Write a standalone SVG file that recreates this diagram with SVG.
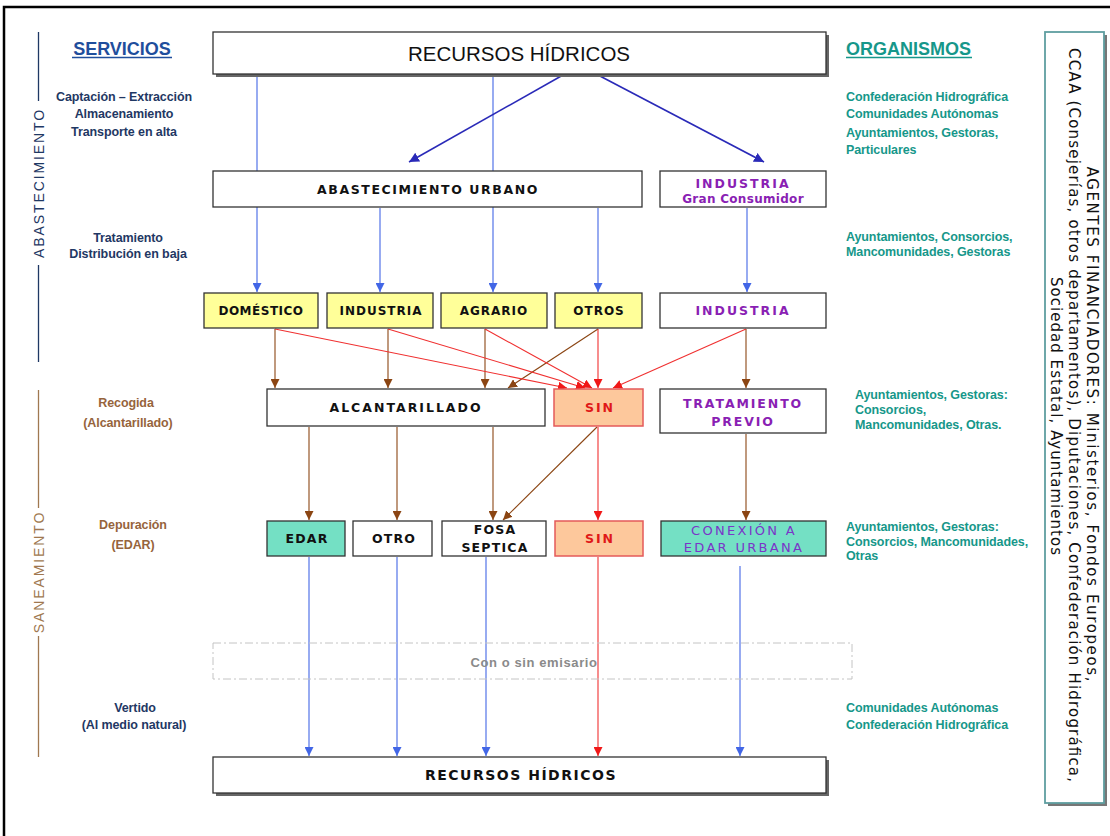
<svg xmlns="http://www.w3.org/2000/svg" width="1110" height="836" viewBox="0 0 1110 836">
<defs>
<style>
.box{fill:#fff;stroke:#333;stroke-width:1.3}
.yel{fill:#ffff99;stroke:#333;stroke-width:1.3}
.sin{fill:#fdc89c;stroke:#e45a5a;stroke-width:1.5}
.mint{fill:#74e0c4;stroke:#333;stroke-width:1.3}
.nt{font-family:"DejaVu Sans",Verdana,sans-serif;font-weight:bold;font-size:12.5px;fill:#111;text-anchor:middle}
.pur{fill:#8a1fb4}
.pur2{fill:#7a35c8;font-weight:normal;font-size:13px}
.red{fill:#e01818}
.svc{font-family:"Liberation Sans",Arial,sans-serif;font-weight:bold;font-size:12.5px;text-anchor:middle;letter-spacing:-0.1px}
.org{font-family:"Liberation Sans",Arial,sans-serif;font-weight:bold;font-size:12.5px;fill:#16978a;letter-spacing:-0.1px}
.navy{fill:#1f3864}
.tan{fill:#96643c}
.cb{fill:none;stroke:#4266e6;stroke-width:1.1}
.cd{fill:none;stroke:#2a2ab8;stroke-width:1.6}
.cbr{fill:none;stroke:#8b4513;stroke-width:1.1}
.cr{fill:none;stroke:#f03030;stroke-width:1.1}
.ag{font-family:"DejaVu Sans",Verdana,sans-serif;font-size:15px;fill:#111;text-anchor:middle}
</style>
<marker id="mb" viewBox="0 0 10 10" refX="10" refY="5" markerWidth="9" markerHeight="9" markerUnits="userSpaceOnUse" orient="auto"><path d="M0,0 L10,5 L0,10 z" fill="#4266e6"/></marker>
<marker id="md" viewBox="0 0 10 10" refX="10" refY="5" markerWidth="10" markerHeight="10" markerUnits="userSpaceOnUse" orient="auto"><path d="M0,0 L10,5 L0,10 z" fill="#2a2ab8"/></marker>
<marker id="mbr" viewBox="0 0 10 10" refX="10" refY="5" markerWidth="9" markerHeight="9" markerUnits="userSpaceOnUse" orient="auto"><path d="M0,0 L10,5 L0,10 z" fill="#8b4513"/></marker>
<marker id="mr" viewBox="0 0 10 10" refX="10" refY="5" markerWidth="9" markerHeight="9" markerUnits="userSpaceOnUse" orient="auto"><path d="M0,0 L10,5 L0,10 z" fill="#f01818"/></marker>
</defs>
<rect x="0" y="0" width="1110" height="836" fill="#fff"/>
<path d="M4,836 V7 H1110" fill="none" stroke="#000" stroke-width="2.5"/>

<g id="side-labels">
<text x="122" y="55" font-family="Liberation Sans,Arial,sans-serif" font-weight="bold" font-size="18" fill="#1f4e9c" text-anchor="middle">SERVICIOS</text>
<line x1="72" y1="57.5" x2="172" y2="57.5" stroke="#1f4e9c" stroke-width="1.5"/>
<text x="846" y="55" font-family="Liberation Sans,Arial,sans-serif" font-weight="bold" font-size="18" fill="#16978a">ORGANISMOS</text>
<line x1="846" y1="57.5" x2="972" y2="57.5" stroke="#16978a" stroke-width="1.5"/>

<line x1="38.5" y1="32" x2="38.5" y2="101" stroke="#1f3864" stroke-width="1.3"/>
<line x1="38.5" y1="265" x2="38.5" y2="362" stroke="#1f3864" stroke-width="1.3"/>
<text transform="translate(43.5,183) rotate(-90)" font-family="Liberation Sans,Arial,sans-serif" font-size="14" fill="#1f3864" text-anchor="middle" letter-spacing="1.9">ABASTECIMIENTO</text>
<line x1="38.5" y1="390" x2="38.5" y2="508" stroke="#a07850" stroke-width="1.3"/>
<line x1="38.5" y1="636" x2="38.5" y2="757" stroke="#a07850" stroke-width="1.3"/>
<text transform="translate(43.5,572) rotate(-90)" font-family="Liberation Sans,Arial,sans-serif" font-size="14" fill="#a07850" text-anchor="middle" letter-spacing="1.9">SANEAMIENTO</text>

<text class="svc navy" x="124" y="101">Captación – Extracción</text>
<text class="svc navy" x="124" y="118">Almacenamiento</text>
<text class="svc navy" x="124" y="136">Transporte en alta</text>
<text class="svc navy" x="128" y="242">Tratamiento</text>
<text class="svc navy" x="128" y="258">Distribución en baja</text>
<text class="svc tan" x="126" y="407">Recogida</text>
<text class="svc tan" x="128" y="427">(Alcantarillado)</text>
<text class="svc tan" x="133" y="529">Depuración</text>
<text class="svc tan" x="133" y="549">(EDAR)</text>
<text class="svc navy" x="135" y="712">Vertido</text>
<text class="svc navy" x="134" y="729">(Al medio natural)</text>

<text class="org" x="846" y="101">Confederación Hidrográfica</text>
<text class="org" x="846" y="118">Comunidades Autónomas</text>
<text class="org" x="846" y="137">Ayuntamientos, Gestoras,</text>
<text class="org" x="846" y="154">Particulares</text>
<text class="org" x="846" y="241">Ayuntamientos, Consorcios,</text>
<text class="org" x="846" y="256">Mancomunidades, Gestoras</text>
<text class="org" x="855" y="399">Ayuntamientos, Gestoras:</text>
<text class="org" x="855" y="414">Consorcios,</text>
<text class="org" x="855" y="429">Mancomunidades, Otras.</text>
<text class="org" x="846" y="531">Ayuntamientos, Gestoras:</text>
<text class="org" x="846" y="546">Consorcios, Mancomunidades,</text>
<text class="org" x="846" y="560">Otras</text>
<text class="org" x="846" y="712">Comunidades Autónomas</text>
<text class="org" x="846" y="729">Confederación Hidrográfica</text>
</g>

<g id="agentes">
<rect x="1048" y="35" width="59" height="771" fill="#777"/>
<rect x="1045" y="32" width="59" height="771" fill="#fff" stroke="#5f9ea0" stroke-width="1.8"/>
<text class="ag" transform="translate(1087,424) rotate(90)" textLength="515" lengthAdjust="spacing">AGENTES FINANCIADORES: Ministerios, Fondos Europeos,</text>
<text class="ag" transform="translate(1069,415) rotate(90)" textLength="734" lengthAdjust="spacing">CCAA (Consejerías, otros departamentos), Diputaciones, Confederación Hidrográfica,</text>
<text class="ag" transform="translate(1051,416) rotate(90)" textLength="278" lengthAdjust="spacing">Sociedad Estatal, Ayuntamientos</text>
</g>

<g id="connectors">
<path class="cb" d="M257,75 V292" marker-end="url(#mb)"/>
<path class="cb" d="M493,75 V292" marker-end="url(#mb)"/>
<path class="cb" d="M380,208 V292" marker-end="url(#mb)"/>
<path class="cb" d="M598,208 V292" marker-end="url(#mb)"/>
<path class="cb" d="M747,208 V292" marker-end="url(#mb)"/>
<path class="cd" d="M563,75 L409,162" marker-end="url(#md)"/>
<path class="cd" d="M598,75 L764,162" marker-end="url(#md)"/>
<path class="cbr" d="M275,329 V388" marker-end="url(#mbr)"/>
<path class="cbr" d="M388,329 V388" marker-end="url(#mbr)"/>
<path class="cbr" d="M485,329 V388" marker-end="url(#mbr)"/>
<path class="cbr" d="M598,329 L508,388" marker-end="url(#mbr)"/>
<path class="cbr" d="M746,329 V388" marker-end="url(#mbr)"/>
<path class="cbr" d="M309,427 V520" marker-end="url(#mbr)"/>
<path class="cbr" d="M397,427 V520" marker-end="url(#mbr)"/>
<path class="cbr" d="M493,427 V520" marker-end="url(#mbr)"/>
<path class="cbr" d="M597,427 L503,520" marker-end="url(#mbr)"/>
<path class="cbr" d="M746,434 V520" marker-end="url(#mbr)"/>
<path class="cr" d="M275,329 L567,388" marker-end="url(#mr)"/>
<path class="cr" d="M388,329 L585,388" marker-end="url(#mr)"/>
<path class="cr" d="M485,329 L592,388" marker-end="url(#mr)"/>
<path class="cr" d="M598,329 V388" marker-end="url(#mr)"/>
<path class="cr" d="M746,329 L613,388" marker-end="url(#mr)"/>
<path class="cr" d="M598,427 V520" marker-end="url(#mr)"/>
<path class="cr" d="M598,557 V756" marker-end="url(#mr)"/>
<path class="cb" d="M309,557 V756" marker-end="url(#mb)"/>
<path class="cb" d="M397,557 V756" marker-end="url(#mb)"/>
<path class="cb" d="M486,557 V756" marker-end="url(#mb)"/>
<path class="cb" d="M740,566 V756" marker-end="url(#mb)"/>
</g>

<g id="n-recursos-top">
<rect x="216" y="35" width="613" height="42" fill="#666"/>
<rect class="box" x="213" y="32" width="613" height="42"/>
<text x="519" y="61" font-family="Liberation Sans,Arial,sans-serif" font-size="20.5" fill="#111" text-anchor="middle">RECURSOS HÍDRICOS</text>
</g>
<g id="n-abast-urbano">
<rect class="box" x="213" y="171" width="429" height="36"/>
<text class="nt" x="428" y="194" letter-spacing="1.6">ABASTECIMIENTO URBANO</text>
</g>
<g id="n-industria-gc">
<rect class="box" x="660" y="171" width="166" height="36"/>
<text class="nt pur" x="743" y="188" letter-spacing="2">INDUSTRIA</text>
<text class="nt pur" x="743" y="203" style="font-size:12px" letter-spacing="0.3">Gran Consumidor</text>
</g>
<g id="n-domestico">
<rect class="yel" x="204" y="293" width="114" height="35"/>
<text class="nt" x="261" y="315" style="font-size:12px" letter-spacing="0.5">DOMÉSTICO</text>
</g>
<g id="n-industria">
<rect class="yel" x="327" y="293" width="106" height="35"/>
<text class="nt" x="381" y="315" style="font-size:12px" letter-spacing="1">INDUSTRIA</text>
</g>
<g id="n-agrario">
<rect class="yel" x="441" y="293" width="106" height="35"/>
<text class="nt" x="494" y="315" style="font-size:12px" letter-spacing="1">AGRARIO</text>
</g>
<g id="n-otros">
<rect class="yel" x="555" y="293" width="87" height="35"/>
<text class="nt" x="599" y="315" style="font-size:12px" letter-spacing="1">OTROS</text>
</g>
<g id="n-industria2">
<rect class="box" x="660" y="293" width="166" height="35"/>
<text class="nt pur" x="743" y="315" letter-spacing="2">INDUSTRIA</text>
</g>
<g id="n-alcantarillado">
<rect class="box" x="267" y="389" width="278" height="37"/>
<text class="nt" x="406" y="412" letter-spacing="2">ALCANTARILLADO</text>
</g>
<g id="n-sin1">
<rect class="sin" x="554" y="389" width="89" height="37"/>
<text class="nt red" x="600" y="412" letter-spacing="2">SIN</text>
</g>
<g id="n-tratamiento">
<rect class="box" x="660" y="389" width="166" height="44"/>
<text class="nt pur" x="743" y="408" letter-spacing="1.9">TRATAMIENTO</text>
<text class="nt pur" x="743" y="426" letter-spacing="1.9">PREVIO</text>
</g>
<g id="n-edar">
<rect class="mint" x="267" y="521" width="78" height="35"/>
<text class="nt" x="307" y="543" letter-spacing="1.2">EDAR</text>
</g>
<g id="n-otro">
<rect class="box" x="353" y="521" width="79" height="35"/>
<text class="nt" x="394" y="543" letter-spacing="1.2">OTRO</text>
</g>
<g id="n-fosa">
<rect class="box" x="442" y="521" width="104" height="35"/>
<text class="nt" x="495" y="534" letter-spacing="1.2">FOSA</text>
<text class="nt" x="495" y="552" letter-spacing="1.2">SEPTICA</text>
</g>
<g id="n-sin2">
<rect class="sin" x="555" y="521" width="88" height="35"/>
<text class="nt red" x="600" y="543" letter-spacing="2">SIN</text>
</g>
<g id="n-conexion">
<rect class="mint" x="661" y="521" width="165" height="35"/>
<text class="nt pur2" x="744" y="535" letter-spacing="2.3">CONEXIÓN A</text>
<text class="nt pur2" x="744" y="552" letter-spacing="2.3">EDAR URBANA</text>
</g>
<g id="n-emisario">
<rect x="213" y="643" width="639" height="36" fill="none" stroke="#c4c4c4" stroke-width="1" stroke-dasharray="8,3,2,3"/>
<text x="534" y="667" font-family="Liberation Sans,Arial,sans-serif" font-weight="bold" font-size="13" fill="#8a8a8a" text-anchor="middle" letter-spacing="0.6">Con o sin emisario</text>
</g>
<g id="n-recursos-bottom">
<rect x="216" y="760" width="613" height="36" fill="#666"/>
<rect class="box" x="213" y="757" width="613" height="36"/>
<text class="nt" x="521" y="780" style="font-size:14px" letter-spacing="1.5">RECURSOS HÍDRICOS</text>
</g>
</svg>
